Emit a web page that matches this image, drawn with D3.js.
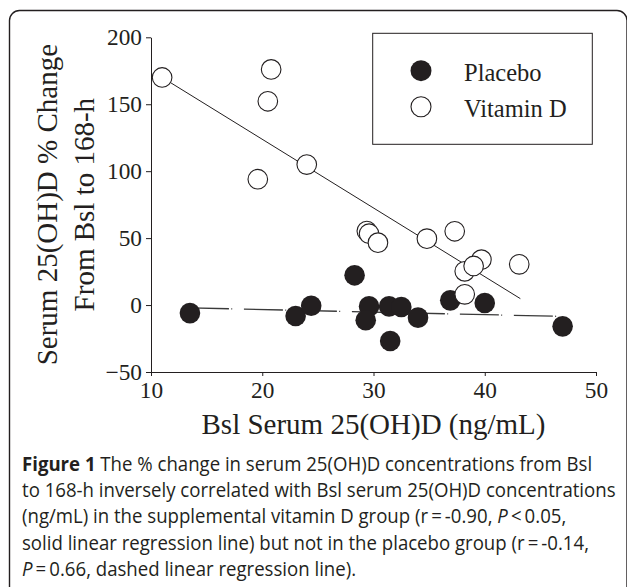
<!DOCTYPE html>
<html><head><meta charset="utf-8">
<script src="https://cdn.jsdelivr.net/npm/d3@7"></script>
<style>body{margin:0;background:#fff} svg{display:block}</style>
</head><body>
<svg id="c" width="627" height="587"></svg>
<script>
// ---- data ----
const xTicks = [10, 20, 30, 40, 50];
const yTicks = [-50, 0, 50, 100, 150, 200];
const placeboX = [13.5, 23.0, 24.4, 28.3, 29.6, 29.3, 31.4, 32.5, 31.5, 34.0, 36.9, 40.0, 47.0];
const placeboY = [-6.0, -8.2, -0.5, 22.2, -1.0, -11.4, -1.0, -1.5, -26.9, -9.4, 3.5, 1.5, -15.9];
const vitDX = [11.0, 20.8, 20.5, 19.6, 24.0, 29.4, 29.6, 30.4, 34.8, 37.3, 39.7, 38.2, 39.0, 43.1, 38.2];
const vitDY = [170, 176, 152.2, 94, 104.9, 55.3, 53.3, 46.6, 49.6, 55.1, 33.9, 25.2, 29.2, 30.4, 8.0];
const vitLineX = [11.0, 43.2];
const vitLineY = [170, 4.8];
const placLineX = [13.5, 47.0];
const placLineY = [-2.1, -8.5];
const legendLabels = ["Placebo", "Vitamin D"];
const xTitle = "Bsl Serum 25(OH)D (ng/mL)";
const yTitle = ["Serum 25(OH)D % Change", "From Bsl to 168-h"];
const captionLines = [
  [["Figure 1", "b"], [" The % change in serum 25(OH)D concentrations from Bsl", ""]],
  [["to 168-h inversely correlated with Bsl serum 25(OH)D concentrations", ""]],
  [["(ng/mL) in the supplemental vitamin D group (r\u2009=\u2009-0.90, ", ""], ["P", "i"], ["\u2009<\u20090.05,", ""]],
  [["solid linear regression line) but not in the placebo group (r\u2009=\u2009-0.14,", ""]],
  [["P", "i"], ["\u2009=\u20090.66, dashed linear regression line).", ""]]
];

// ---- drawing ----
const ink = "#231f20";
const svg = d3.select("#c");
const serif = "'Liberation Serif','Times New Roman',serif";

// frame
svg.append("rect").attr("x", 9.5).attr("y", 10.5).attr("width", 617.5).attr("height", 600)
  .attr("rx", 10).attr("fill", "none").attr("stroke", ink).attr("stroke-width", 1.4);

const x = d3.scaleLinear().domain([10, 50]).range([151, 596]);
const y = d3.scaleLinear().domain([-50, 200]).range([372, 37.3]);

// axes
const gy = svg.append("g").attr("transform", "translate(151,0)")
  .call(d3.axisLeft(y).tickValues(yTicks).tickSize(5).tickSizeOuter(0).tickPadding(4).tickFormat(d3.format("d")));
const gx = svg.append("g").attr("transform", "translate(0,372)")
  .call(d3.axisBottom(x).tickValues(xTicks).tickSize(4).tickSizeOuter(0).tickFormat(d3.format("d")));
[gx, gy].forEach(g => {
  g.selectAll("path,line").attr("stroke", ink).attr("stroke-width", 1);
  g.selectAll("text").attr("fill", ink).style("font-family", serif).style("font-size", "23.3px");
});
gx.selectAll("text").attr("y", 25.8).attr("dy", 0);

// axis titles
svg.append("text").attr("x", (x.range()[0] + x.range()[1]) / 2).attr("y", 434)
  .attr("text-anchor", "middle").attr("fill", ink)
  .style("font-family", serif).style("font-size", "29px").text(xTitle);
const yc = (y.range()[0] + y.range()[1]) / 2;
[57, 94].forEach((bx, i) => {
  svg.append("text").attr("transform", `translate(${bx},${yc}) rotate(-90)`)
    .attr("text-anchor", "middle").attr("fill", ink)
    .style("font-family", serif).style("font-size", "29px").text(yTitle[i]);
});

// regression lines
const line = d3.line().x(d => x(d[0])).y(d => y(d[1]));
svg.append("path").datum(placLineX.map((v, i) => [v, placLineY[i]]))
  .attr("d", line).attr("fill", "none").attr("stroke", "#3a3a3a").attr("stroke-width", 1.3)
  .attr("stroke-dasharray", "39,2.3,1,11.7");
svg.append("path").datum(vitLineX.map((v, i) => [v, vitLineY[i]]))
  .attr("d", line).attr("fill", "none").attr("stroke", ink).attr("stroke-width", 1);

// points
svg.append("g").selectAll("circle").data(placeboX.map((v, i) => [v, placeboY[i]])).join("circle")
  .attr("cx", d => x(d[0])).attr("cy", d => y(d[1])).attr("r", 10.3).attr("fill", ink);
svg.append("g").selectAll("circle").data(vitDX.map((v, i) => [v, vitDY[i]])).join("circle")
  .attr("cx", d => x(d[0])).attr("cy", d => y(d[1])).attr("r", 9.8)
  .attr("fill", "#fff").attr("stroke", ink).attr("stroke-width", 1.1);

// legend
svg.append("rect").attr("x", 372.7).attr("y", 33.3).attr("width", 219.6).attr("height", 111)
  .attr("fill", "#fff").attr("stroke", ink).attr("stroke-width", 1);
legendLabels.forEach((lab, i) => {
  const cy = 70.7 + i * 36;
  svg.append("circle").attr("cx", 421).attr("cy", cy).attr("r", i === 0 ? 10.5 : 10)
    .attr("fill", i === 0 ? ink : "#fff").attr("stroke", ink).attr("stroke-width", i === 0 ? 0 : 1.1);
  svg.append("text").attr("x", 464).attr("y", cy + 10).attr("fill", ink)
    .style("font-family", serif).style("font-size", "24.5px").text(lab);
});

// caption
const cap = svg.append("g").attr("transform", "translate(22,0)");
const capTexts = captionLines.map((parts, i) => {
  const t = cap.append("text").attr("x", 0).attr("y", 471 + i * 26.2).attr("fill", ink)
    .style("font-family", "'Open Sans','Noto Sans',sans-serif").style("font-size", "19.5px");
  parts.forEach(([s, f]) => {
    const ts = t.append("tspan").text(s);
    if (f === "b") ts.style("font-weight", "bold");
    if (f === "i") ts.style("font-style", "italic");
  });
  return t;
});
const w2 = capTexts[1].node().getComputedTextLength();
const sx = 594 / w2;
cap.attr("transform", `translate(22,0) scale(${sx},1)`);
</script>
</body></html>
